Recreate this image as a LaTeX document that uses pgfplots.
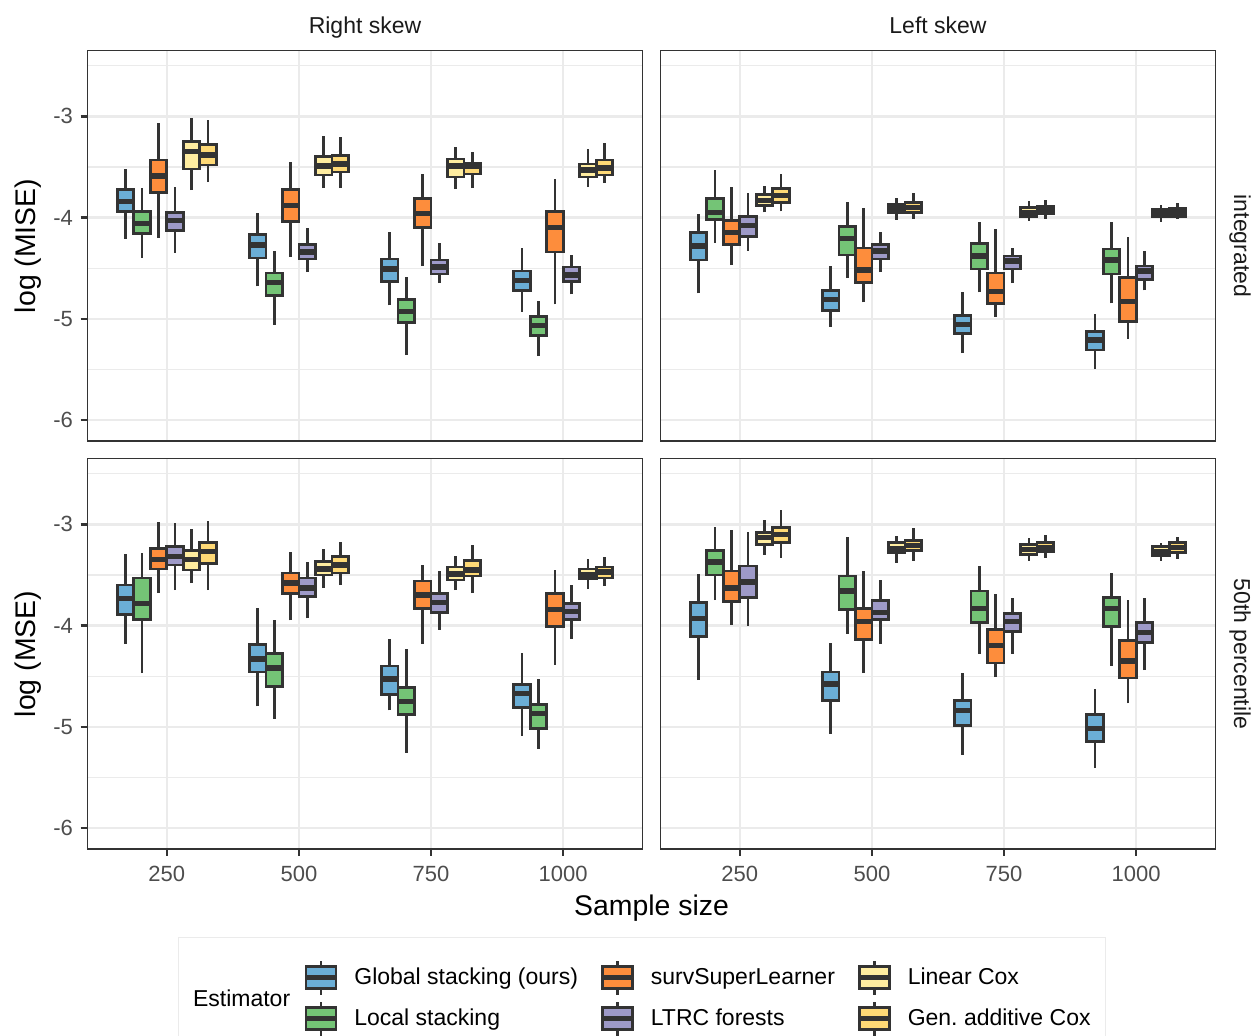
\documentclass[border=0pt]{standalone}
\usepackage{fontspec}
\setmainfont{Liberation Sans}
\usepackage{pgfplots}
\pgfplotsset{compat=1.18}

\definecolor{est1}{HTML}{6BAED6}% Global stacking (ours)
\definecolor{est2}{HTML}{74C476}% Local stacking
\definecolor{est3}{HTML}{FD8D3C}% survSuperLearner
\definecolor{est4}{HTML}{9E9AC8}% LTRC forests
\definecolor{est5}{HTML}{FFEDA0}% Linear Cox
\definecolor{est6}{HTML}{FED976}% Gen. additive Cox
\definecolor{boxline}{HTML}{333333}
\definecolor{gridc}{HTML}{EBEBEB}
\definecolor{borderc}{HTML}{333333}
\definecolor{tickc}{HTML}{4D4D4D}
\definecolor{stripc}{HTML}{1A1A1A}

% one box: category, estimator slot (1..6), lower whisker, Q1, median, Q3, upper whisker
% slots are dodged by 0.125 around the category; each box is 0.125 wide
\newcommand{\bx}[7]{%
  \pgfmathsetmacro\xc{#1+(#2-3.5)*0.125}%
  \pgfmathsetmacro\xa{\xc-0.0625}%
  \pgfmathsetmacro\xb{\xc+0.0625}%
  \edef\bxcmd{%
    \noexpand\addplot[draw=boxline, line width=1.35pt, forget plot]
      coordinates {(\xc,#3) (\xc,#7)};%
    \noexpand\addplot[draw=boxline, fill=est#2, line width=1.35pt, forget plot]
      coordinates {(\xa,#4) (\xb,#4) (\xb,#6) (\xa,#6)} -- cycle;%
    \noexpand\addplot[draw=boxline, line width=2.7pt, forget plot]
      coordinates {(\xa,#5) (\xb,#5)};%
  }\bxcmd}

\pgfplotsset{
  panel/.style={
    scale only axis, width=277.5pt, height=195.15pt,
    xmin=0.4, xmax=4.6, ymin=-6.21, ymax=-2.35,
    xtick={1,2,3,4}, ytick={-6,-5,-4,-3},
    minor ytick={-5.5,-4.5,-3.5,-2.5},
    grid=both,
    major grid style={draw=gridc, line width=1.1pt},
    minor grid style={draw=gridc, line width=0.55pt},
    axis line style={draw=borderc, line width=0.6pt},
    tick align=outside, major tick length=3.5pt, minor tick length=0pt,
    xtick pos=bottom, ytick pos=left,
    major tick style={draw=borderc, line width=1.1pt},
    minor tick style={draw=none},
    tick label style={font=\fontsize{11}{13}\selectfont, text=tickc},
    xticklabels={250,500,750,1000}, yticklabels={-6,-5,-4,-3},
    yticklabel style={xshift=-0.25pt},
    xticklabel style={yshift=-1.7pt},
  },
  notop/.style={xticklabels={}, xmajorticks=false},
  noleft/.style={yticklabels={}, ymajorticks=false},
}

\begin{document}
\begin{tikzpicture}
\useasboundingbox (0,0) rectangle (627pt,518pt);

% ---------------- Right skew, integrated ----------------
\begin{axis}[panel, notop, at={(43.75pt,297.5pt)}, anchor=south west]
\bx{1}{1}{-4.21}{-3.94}{-3.84}{-3.72}{-3.52}
\bx{1}{2}{-4.40}{-4.16}{-4.06}{-3.94}{-3.71}
\bx{1}{3}{-4.20}{-3.75}{-3.59}{-3.43}{-3.07}
\bx{1}{4}{-4.35}{-4.13}{-4.03}{-3.95}{-3.70}
\bx{1}{5}{-3.73}{-3.52}{-3.35}{-3.25}{-3.02}
\bx{1}{6}{-3.65}{-3.48}{-3.38}{-3.28}{-3.04}
\bx{2}{1}{-4.68}{-4.40}{-4.27}{-4.17}{-3.96}
\bx{2}{2}{-5.06}{-4.77}{-4.64}{-4.55}{-4.33}
\bx{2}{3}{-4.39}{-4.04}{-3.88}{-3.72}{-3.45}
\bx{2}{4}{-4.54}{-4.41}{-4.34}{-4.27}{-4.10}
\bx{2}{5}{-3.71}{-3.58}{-3.49}{-3.40}{-3.19}
\bx{2}{6}{-3.71}{-3.55}{-3.47}{-3.39}{-3.20}
\bx{3}{1}{-4.87}{-4.63}{-4.51}{-4.41}{-4.14}
\bx{3}{2}{-5.36}{-5.04}{-4.93}{-4.81}{-4.59}
\bx{3}{3}{-4.48}{-4.10}{-3.96}{-3.81}{-3.57}
\bx{3}{4}{-4.65}{-4.56}{-4.49}{-4.42}{-4.25}
\bx{3}{5}{-3.72}{-3.60}{-3.49}{-3.42}{-3.30}
\bx{3}{6}{-3.71}{-3.57}{-3.49}{-3.46}{-3.35}
\bx{4}{1}{-4.93}{-4.72}{-4.62}{-4.53}{-4.30}
\bx{4}{2}{-5.37}{-5.17}{-5.07}{-4.98}{-4.83}
\bx{4}{3}{-4.86}{-4.34}{-4.10}{-3.94}{-3.62}
\bx{4}{4}{-4.76}{-4.63}{-4.57}{-4.49}{-4.37}
\bx{4}{5}{-3.70}{-3.60}{-3.53}{-3.47}{-3.32}
\bx{4}{6}{-3.66}{-3.58}{-3.51}{-3.43}{-3.26}
\end{axis}

% ---------------- Left skew, integrated ----------------
\begin{axis}[panel, notop, noleft, at={(330.25pt,297.5pt)}, anchor=south west]
\bx{1}{1}{-4.75}{-4.42}{-4.28}{-4.15}{-3.97}
\bx{1}{2}{-4.25}{-4.02}{-3.95}{-3.81}{-3.53}
\bx{1}{3}{-4.47}{-4.27}{-4.15}{-4.03}{-3.70}
\bx{1}{4}{-4.33}{-4.19}{-4.08}{-3.99}{-3.76}
\bx{1}{5}{-3.95}{-3.88}{-3.83}{-3.77}{-3.69}
\bx{1}{6}{-3.94}{-3.85}{-3.78}{-3.71}{-3.57}
\bx{2}{1}{-5.08}{-4.92}{-4.81}{-4.72}{-4.48}
\bx{2}{2}{-4.60}{-4.37}{-4.21}{-4.09}{-3.85}
\bx{2}{3}{-4.84}{-4.64}{-4.52}{-4.30}{-3.91}
\bx{2}{4}{-4.54}{-4.41}{-4.33}{-4.27}{-4.14}
\bx{2}{5}{-4.02}{-3.95}{-3.91}{-3.87}{-3.81}
\bx{2}{6}{-4.01}{-3.95}{-3.90}{-3.85}{-3.76}
\bx{3}{1}{-5.34}{-5.15}{-5.06}{-4.97}{-4.74}
\bx{3}{2}{-4.74}{-4.51}{-4.38}{-4.26}{-4.04}
\bx{3}{3}{-4.98}{-4.85}{-4.73}{-4.55}{-4.11}
\bx{3}{4}{-4.65}{-4.51}{-4.43}{-4.38}{-4.30}
\bx{3}{5}{-4.03}{-3.99}{-3.95}{-3.90}{-3.84}
\bx{3}{6}{-4.01}{-3.96}{-3.93}{-3.89}{-3.83}
\bx{4}{1}{-5.50}{-5.31}{-5.21}{-5.13}{-4.95}
\bx{4}{2}{-4.85}{-4.56}{-4.42}{-4.31}{-4.04}
\bx{4}{3}{-5.20}{-5.03}{-4.83}{-4.59}{-4.19}
\bx{4}{4}{-4.72}{-4.61}{-4.53}{-4.48}{-4.33}
\bx{4}{5}{-4.04}{-3.99}{-3.96}{-3.92}{-3.88}
\bx{4}{6}{-4.01}{-3.99}{-3.95}{-3.91}{-3.86}
\end{axis}

% ---------------- Right skew, 50th percentile ----------------
\begin{axis}[panel, at={(43.75pt,93.5pt)}, anchor=south west,
  legend columns=3,
  legend image code/.code={
    \draw[draw=boxline, line width=1.35pt] (7.5pt,-8.5pt) -- (7.5pt,8.5pt);
    \draw[draw=boxline, line width=1.35pt, #1] (0pt,-5.5pt) rectangle (15pt,5.5pt);
    \draw[draw=boxline, line width=2.4pt] (0pt,0pt) -- (15pt,0pt);
  },
  legend style={at={(axis description cs:0.3886,-0.282)}, anchor=north west,
    draw=none, fill=none, inner sep=0pt, row sep=2pt,
    font=\fontsize{11.5}{13}\selectfont, text=black,
    nodes={inner sep=0pt}, cells={anchor=west},
    /tikz/every odd column/.append style={column sep=8pt},
    /tikz/every even column/.append style={column sep=11pt}},
]
\addlegendimage{fill=est1}\addlegendentry{Global stacking (ours)}
\addlegendimage{fill=est3}\addlegendentry{survSuperLearner}
\addlegendimage{fill=est5}\addlegendentry{Linear Cox}
\addlegendimage{fill=est2}\addlegendentry{Local stacking}
\addlegendimage{fill=est4}\addlegendentry{LTRC forests}
\addlegendimage{fill=est6}\addlegendentry{Gen.\ additive Cox}
\bx{1}{1}{-4.18}{-3.89}{-3.73}{-3.60}{-3.29}
\bx{1}{2}{-4.47}{-3.94}{-3.78}{-3.53}{-3.28}
\bx{1}{3}{-3.68}{-3.44}{-3.35}{-3.24}{-2.98}
\bx{1}{4}{-3.65}{-3.40}{-3.32}{-3.22}{-2.99}
\bx{1}{5}{-3.58}{-3.45}{-3.35}{-3.26}{-3.05}
\bx{1}{6}{-3.65}{-3.39}{-3.27}{-3.18}{-2.97}
\bx{2}{1}{-4.80}{-4.46}{-4.33}{-4.19}{-3.83}
\bx{2}{2}{-4.92}{-4.60}{-4.42}{-4.28}{-3.95}
\bx{2}{3}{-3.95}{-3.68}{-3.58}{-3.48}{-3.27}
\bx{2}{4}{-3.93}{-3.71}{-3.63}{-3.53}{-3.37}
\bx{2}{5}{-3.63}{-3.50}{-3.44}{-3.37}{-3.24}
\bx{2}{6}{-3.60}{-3.48}{-3.40}{-3.32}{-3.17}
\bx{3}{1}{-4.84}{-4.68}{-4.53}{-4.40}{-4.13}
\bx{3}{2}{-5.26}{-4.88}{-4.75}{-4.61}{-4.23}
\bx{3}{3}{-4.18}{-3.83}{-3.70}{-3.56}{-3.40}
\bx{3}{4}{-4.04}{-3.87}{-3.77}{-3.68}{-3.46}
\bx{3}{5}{-3.65}{-3.55}{-3.49}{-3.42}{-3.31}
\bx{3}{6}{-3.68}{-3.51}{-3.45}{-3.36}{-3.20}
\bx{4}{1}{-5.09}{-4.81}{-4.67}{-4.58}{-4.27}
\bx{4}{2}{-5.22}{-5.02}{-4.87}{-4.78}{-4.53}
\bx{4}{3}{-4.39}{-4.01}{-3.84}{-3.68}{-3.45}
\bx{4}{4}{-4.13}{-3.94}{-3.86}{-3.78}{-3.60}
\bx{4}{5}{-3.64}{-3.54}{-3.50}{-3.44}{-3.34}
\bx{4}{6}{-3.61}{-3.53}{-3.47}{-3.42}{-3.32}
\end{axis}

% ---------------- Left skew, 50th percentile ----------------
\begin{axis}[panel, noleft, at={(330.25pt,93.5pt)}, anchor=south west]
\bx{1}{1}{-4.54}{-4.11}{-3.93}{-3.77}{-3.49}
\bx{1}{2}{-3.75}{-3.50}{-3.37}{-3.26}{-3.03}
\bx{1}{3}{-3.99}{-3.76}{-3.63}{-3.46}{-3.06}
\bx{1}{4}{-4.00}{-3.72}{-3.57}{-3.41}{-3.08}
\bx{1}{5}{-3.30}{-3.20}{-3.13}{-3.08}{-2.96}
\bx{1}{6}{-3.33}{-3.18}{-3.10}{-3.03}{-2.86}
\bx{2}{1}{-5.07}{-4.74}{-4.58}{-4.46}{-4.17}
\bx{2}{2}{-4.08}{-3.84}{-3.66}{-3.51}{-3.12}
\bx{2}{3}{-4.47}{-4.14}{-3.96}{-3.83}{-3.46}
\bx{2}{4}{-4.18}{-3.94}{-3.87}{-3.75}{-3.55}
\bx{2}{5}{-3.38}{-3.28}{-3.24}{-3.18}{-3.11}
\bx{2}{6}{-3.36}{-3.26}{-3.21}{-3.16}{-3.04}
\bx{3}{1}{-5.28}{-4.99}{-4.84}{-4.74}{-4.47}
\bx{3}{2}{-4.28}{-3.97}{-3.83}{-3.66}{-3.41}
\bx{3}{3}{-4.51}{-4.37}{-4.20}{-4.04}{-3.69}
\bx{3}{4}{-4.28}{-4.06}{-3.96}{-3.88}{-3.73}
\bx{3}{5}{-3.36}{-3.30}{-3.25}{-3.20}{-3.13}
\bx{3}{6}{-3.33}{-3.27}{-3.23}{-3.18}{-3.10}
\bx{4}{1}{-5.41}{-5.15}{-5.02}{-4.88}{-4.63}
\bx{4}{2}{-4.40}{-4.01}{-3.83}{-3.72}{-3.48}
\bx{4}{3}{-4.77}{-4.52}{-4.35}{-4.15}{-3.75}
\bx{4}{4}{-4.44}{-4.17}{-4.07}{-3.97}{-3.73}
\bx{4}{5}{-3.36}{-3.31}{-3.27}{-3.22}{-3.18}
\bx{4}{6}{-3.34}{-3.28}{-3.23}{-3.18}{-3.12}
\end{axis}

% facet strips
\node[font=\fontsize{11.5}{13}\selectfont, text=stripc, anchor=base] at (182.5pt,501pt) {Right skew};
\node[font=\fontsize{11.5}{13}\selectfont, text=stripc, anchor=base] at (469pt,501pt) {Left skew};
\node[font=\fontsize{11.5}{13}\selectfont, text=stripc, rotate=-90] at (620pt,395pt) {integrated};
\node[font=\fontsize{11.5}{13}\selectfont, text=stripc, rotate=-90] at (620pt,191pt) {50th percentile};

% axis titles
\node[font=\fontsize{14.2}{16}\selectfont, rotate=90] at (14pt,395pt) {log (MISE)};
\node[font=\fontsize{14.2}{16}\selectfont, rotate=90] at (14pt,191pt) {log (MSE)};
\node[font=\fontsize{14.2}{16}\selectfont] at (325.75pt,64pt) {Sample size};

% legend frame and title
\draw[draw=black!8, line width=0.5pt] (89pt,49pt) rectangle (552.5pt,-6pt);
\node[font=\fontsize{11.5}{13}\selectfont, anchor=west] at (93pt,19pt) {Estimator};
\end{tikzpicture}
\end{document}
